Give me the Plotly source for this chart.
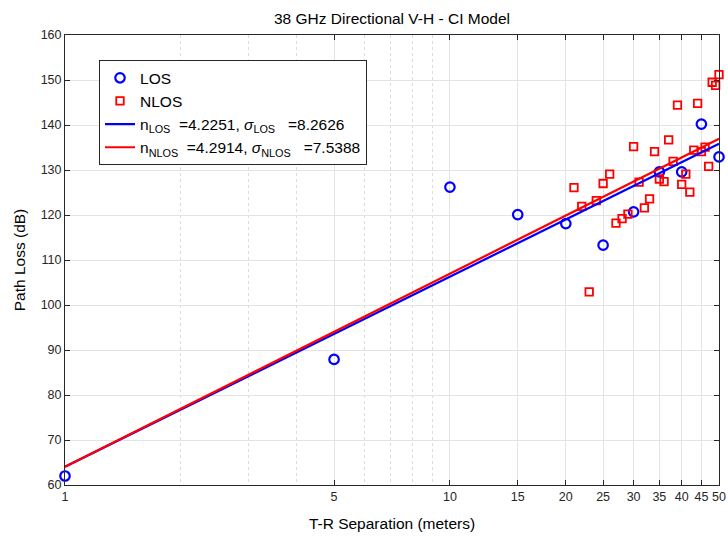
import numpy as np
import plotly.graph_objects as go

# Dữ liệu
los_d = [1, 5, 10, 15, 20, 25, 30, 35, 40, 45, 50]
los_pl = [62.0, 87.9, 126.2, 120.1, 118.1, 113.3, 120.7, 129.6, 129.6, 140.2, 132.9]

nlos_d = [21, 22, 23, 24, 25, 26, 27, 28, 29, 30,
          31, 32, 33, 34, 35, 36, 37, 38, 39, 40,
          41, 42, 43, 44, 45, 46, 47, 48, 49, 50]
nlos_pl = [126.1, 121.9, 102.9, 123.2, 127.0, 129.1, 118.2, 119.2, 120.2, 135.2,
           127.3, 121.6, 123.6, 134.1, 128.0, 127.4, 136.7, 131.9, 144.4, 126.8,
           129.1, 125.1, 134.4, 144.8, 134.1, 135.1, 130.8, 149.5, 148.8, 151.2]

n_los, sigma_los = 4.2251, 8.2626
n_nlos, sigma_nlos = 4.2914, 7.5388

x_ticks = [1, 5, 10, 15, 20, 25, 30, 35, 40, 45, 50]
minor_ticks = [2, 3, 4, 6, 7, 8, 9]

# CI model: FSPL(1 m) + 10 n log10(d)
freq = 38e9
fspl_1m = 20 * np.log10(4 * np.pi * freq / 299792458)
line_d = np.array([1, 50])
los_line = fspl_1m + 10 * n_los * np.log10(line_d)
nlos_line = fspl_1m + 10 * n_nlos * np.log10(line_d)

FONT = "Liberation Sans, Arial, Helvetica, sans-serif"

fig = go.Figure()
fig.add_trace(go.Scatter(
    x=los_d, y=los_pl, mode="markers", name="LOS", cliponaxis=False,
    marker=dict(symbol="circle-open", size=9.5, color="#0000ff", line=dict(width=2.2, color="#0000ff"))
))
fig.add_trace(go.Scatter(
    x=nlos_d, y=nlos_pl, mode="markers", name="NLOS", cliponaxis=False,
    marker=dict(symbol="square-open", size=7.5, color="#ff0000", line=dict(width=1.8, color="#ff0000"))
))
fig.add_trace(go.Scatter(
    x=line_d, y=los_line, mode="lines",
    name=f"n<sub>LOS</sub>&nbsp; ={n_los}, <i>σ</i><sub>LOS</sub>&nbsp;&nbsp; ={sigma_los}",
    line=dict(color="#0000ff", width=2.2)
))
fig.add_trace(go.Scatter(
    x=line_d, y=nlos_line, mode="lines",
    name=f"n<sub>NLOS</sub>&nbsp; ={n_nlos}, <i>σ</i><sub>NLOS</sub>&nbsp;&nbsp; ={sigma_nlos}",
    line=dict(color="#ff0000", width=2.2)
))

axis_common = dict(
    showline=True, mirror="ticks", linecolor="#262626", linewidth=1,
    ticks="inside", ticklen=5, tickcolor="#262626",
    gridcolor="#e3e3e3", gridwidth=1, zeroline=False, automargin=False,
    tickfont=dict(size=12.5, color="#262626", family=FONT),
)

fig.update_layout(
    width=728, height=536,
    paper_bgcolor="white", plot_bgcolor="white",
    margin=dict(l=65, r=9, t=35, b=51),
    font=dict(family=FONT, color="#262626"),
    title=dict(text="38 GHz Directional V-H - CI Model", x=0.5, xanchor="center",
               xref="paper", y=1 - 19 / 536, yanchor="middle", yref="container",
               font=dict(size=15.5, color="#000000", family=FONT)),
    xaxis=dict(
        type="log", range=[0, np.log10(50)], tickvals=x_ticks, ticktext=[str(t) for t in x_ticks],
        title=dict(text="T-R Separation (meters)", font=dict(size=15.5, color="#000000", family=FONT)),
        minor=dict(tickvals=minor_ticks, showgrid=True, griddash="dot", gridcolor="#dcdcdc", ticks=""),
        **axis_common,
    ),
    yaxis=dict(
        range=[60, 160], dtick=10,
        title=dict(text="Path Loss (dB)", font=dict(size=15.5, color="#000000", family=FONT), standoff=11),
        **axis_common,
    ),
    legend=dict(
        x=0.052, y=0.944, xanchor="left", yanchor="top",
        bgcolor="white", bordercolor="#262626", borderwidth=1,
        font=dict(size=15.5, color="#000000", family=FONT),
        tracegroupgap=0, itemwidth=30,
    ),
)

# bỏ lề mặc định của trang để hình nằm đúng khung 728x536, ẩn thanh công cụ
fig.write_html(
    "out.html",
    config={"displayModeBar": False},
    post_script="document.body.style.margin='0';document.body.style.overflow='hidden';",
)
